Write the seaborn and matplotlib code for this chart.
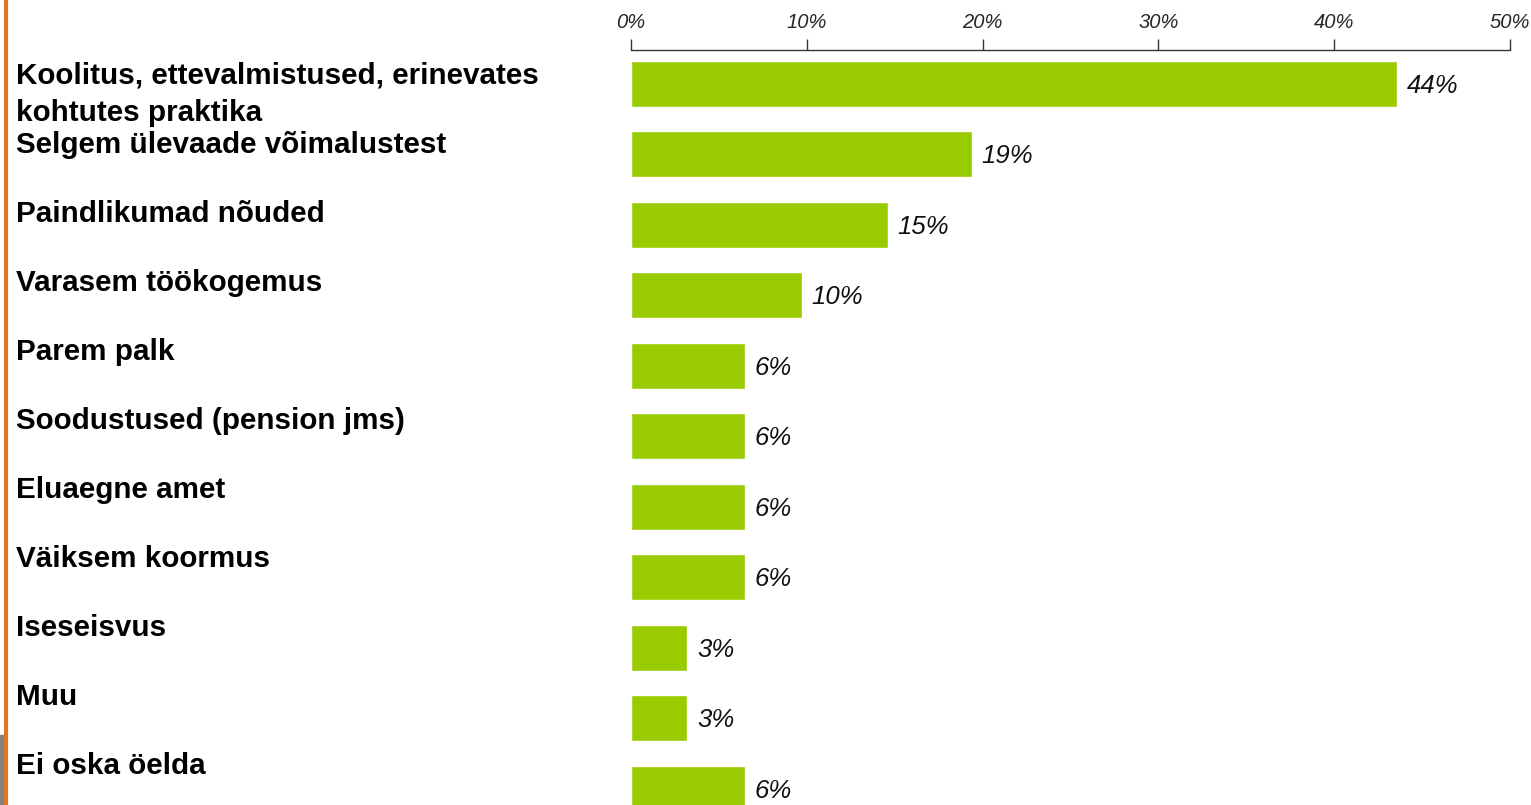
import matplotlib
matplotlib.use('Agg')
import matplotlib.pyplot as plt
import seaborn as sns
import pandas as pd
from matplotlib.ticker import PercentFormatter

# Data
categories = [
    'Koolitus, ettevalmistused, erinevates\nkohtutes praktika',
    'Selgem ülevaade võimalustest',
    'Paindlikumad nõuded',
    'Varasem töökogemus',
    'Parem palk',
    'Soodustused (pension jms)',
    'Eluaegne amet',
    'Väiksem koormus',
    'Iseseisvus',
    'Muu',
    'Ei oska öelda',
]
values = [43.6, 19.4, 14.6, 9.7, 6.5, 6.5, 6.5, 6.5, 3.2, 3.2, 6.5]
value_labels = ['44%', '19%', '15%', '10%', '6%', '6%', '6%', '6%', '3%', '3%', '6%']
ticks = [0, 10, 20, 30, 40, 50]

df = pd.DataFrame({'cat': categories, 'val': values})

sns.set_style('white')
plt.rcParams['font.family'] = ['Liberation Sans', 'DejaVu Sans']

W, H = 1531, 805
fig = plt.figure(figsize=(W / 100, H / 100), dpi=100)
ax = fig.add_axes([631 / W, 0, (1510 - 631) / W, (805 - 50) / H])

sns.barplot(data=df, x='val', y='cat', orient='h', color='#99CC00',
            saturation=1, width=0.65, ax=ax)

ax.set_xlim(0, 50)
ax.set_ylim(10.23, -0.48)
ax.set_xticks(ticks)
ax.xaxis.set_major_formatter(PercentFormatter(decimals=0))
ax.xaxis.tick_top()
ax.tick_params(axis='x', direction='out', length=8, width=1, color='#333333',
               labelsize=14.5, pad=5)
for t in ax.get_xticklabels():
    t.set_style('italic')
ax.set_yticks([])
ax.set_xlabel('')
ax.set_ylabel('')
for s in ['right', 'bottom', 'left']:
    ax.spines[s].set_visible(False)
ax.spines['top'].set_color('#333333')
ax.spines['top'].set_linewidth(1)

# value labels
for i, (v, lab) in enumerate(zip(values, value_labels)):
    ax.text(v + 0.55, i + 0.03, lab, va='center', ha='left',
            fontsize=18.5, style='italic', color='#111111')

# category labels (own row pitch of ~69px, slightly tighter than the bars)
for i, c in enumerate(categories):
    fig.text(16 / W, 1 - (62 + 69 * i) / H, c, va='top', ha='left',
             fontsize=21.3, fontweight='bold', color='black', linespacing=1.4)

# left edge decoration
fig.add_artist(plt.Line2D([5.5 / W, 5.5 / W], [0, 1], color='#E8731E', lw=3,
                          transform=fig.transFigure))
fig.add_artist(plt.Rectangle((0, 0), 4 / W, 70 / H, color='#808080',
                             transform=fig.transFigure))

fig.savefig('out.png', dpi=100)
